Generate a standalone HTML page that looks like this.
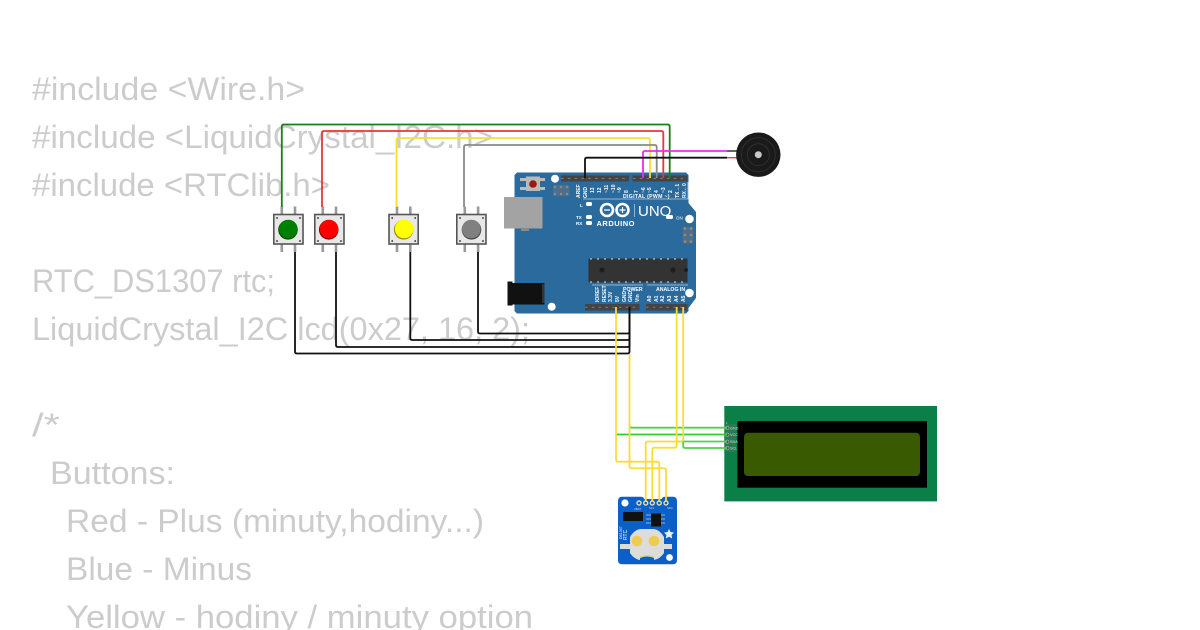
<!DOCTYPE html>
<html><head><meta charset="utf-8"><style>
html,body{margin:0;padding:0;background:#fff;width:1200px;height:630px;overflow:hidden}
svg{position:absolute;left:0;top:0}
.c{font-family:"Liberation Sans",sans-serif;font-size:32px;fill:#ccc}
.w{font-family:"Liberation Sans",sans-serif;font-weight:bold;fill:#fff}
path.wire{fill:none;stroke-width:1.8;stroke-linejoin:round}
</style></head><body>
<svg width="1200" height="630" viewBox="0 0 1200 630" xmlns="http://www.w3.org/2000/svg">
<g class="c">
<text x="32" y="100" textLength="273" lengthAdjust="spacingAndGlyphs">#include &lt;Wire.h&gt;</text>
<text x="32" y="148" textLength="461" lengthAdjust="spacingAndGlyphs">#include &lt;LiquidCrystal_I2C.h&gt;</text>
<text x="32" y="196" textLength="298" lengthAdjust="spacingAndGlyphs">#include &lt;RTClib.h&gt;</text>
<text x="32" y="292" textLength="243" lengthAdjust="spacingAndGlyphs">RTC_DS1307 rtc;</text>
<text x="32" y="340" textLength="498" lengthAdjust="spacingAndGlyphs">LiquidCrystal_I2C lcd(0x27, 16, 2);</text>
<text x="32" y="436" textLength="28" lengthAdjust="spacingAndGlyphs">/*</text>
<text x="50" y="484" textLength="125" lengthAdjust="spacingAndGlyphs">Buttons:</text>
<text x="66" y="532" textLength="418" lengthAdjust="spacingAndGlyphs">Red - Plus (minuty,hodiny...)</text>
<text x="66" y="580" textLength="186" lengthAdjust="spacingAndGlyphs">Blue - Minus</text>
<text x="66" y="628" textLength="467" lengthAdjust="spacingAndGlyphs">Yellow - hodiny / minuty option</text>
</g>

<!-- Arduino -->
<path d="M517 172.5H686L688.5 175V203L696 212V298L688.5 308V311L686 313.5H517L514.5 311V175Z" fill="#2a6a9c"/>
<circle cx="555" cy="178.7" r="4" fill="#fff"/><circle cx="689.5" cy="219" r="4.3" fill="#fff"/><circle cx="689.5" cy="293" r="4.3" fill="#fff"/><circle cx="551.7" cy="306.7" r="4" fill="#fff"/>
<rect x="504" y="197" width="38.5" height="31.5" fill="#a3a3a3"/><rect x="521" y="228" width="8" height="3" fill="#8a8a8a"/>
<rect x="507.5" y="281.5" width="5" height="24" fill="#111"/><rect x="512" y="283" width="32.5" height="21.5" fill="#111"/><rect x="542" y="284" width="2.5" height="19" fill="#333"/>
<rect x="520" y="178" width="25" height="3" fill="#bbb"/><rect x="520" y="187" width="25" height="3" fill="#bbb"/><rect x="526" y="176.5" width="14" height="14.5" fill="#b9b9b9"/><circle cx="533" cy="184" r="3.8" fill="#a01515"/>
<g fill="#9a8a70"><rect x="553" y="185" width="16.5" height="11" fill="#4d6f8d"/>
<circle cx="555" cy="187" r="1.2"/><circle cx="561" cy="187" r="1.2"/><circle cx="567" cy="187" r="1.2"/><circle cx="555" cy="194" r="1.2"/><circle cx="561" cy="194" r="1.2"/><circle cx="567" cy="194" r="1.2"/></g>
<rect x="561" y="175.5" width="68" height="6" fill="#444"/><rect x="632.5" y="175.5" width="55" height="6" fill="#444"/>
<rect x="585" y="304" width="54.5" height="6.5" fill="#444"/><rect x="646" y="304" width="41.5" height="6.5" fill="#444"/>
<path d="M561 178.5H629M633 178.5H687M585 307.3H639M646 307.3H687" stroke="#777" stroke-width="1.2" stroke-dasharray="2.5 4.3" fill="none"/>
<rect x="588.5" y="258.5" width="99" height="24" fill="#333"/>
<path d="M590 259H687M590 282H687" stroke="#ddd" stroke-width="1" stroke-dasharray="2 5"/>
<circle cx="602" cy="270" r="2.5" fill="#1d1d1d"/><circle cx="673" cy="270" r="2.5" fill="#1d1d1d"/><circle cx="686" cy="270" r="2" fill="#1d1d1d"/>
<rect x="682.5" y="226.5" width="11" height="17" fill="#4d6f8d"/>
<g fill="#a08a60"><circle cx="685" cy="228.5" r="1.3"/><circle cx="691" cy="228.5" r="1.3"/><circle cx="685" cy="235" r="1.3"/><circle cx="691" cy="235" r="1.3"/><circle cx="685" cy="241.5" r="1.3"/><circle cx="691" cy="241.5" r="1.3"/></g>
<path d="M583 199H688V182" stroke="#fff" stroke-width=".6" fill="none"/>
<path d="M592 285H643M647 285H688" stroke="#fff" stroke-width=".6" fill="none"/>
<g fill="#fff"><rect x="586" y="202" width="6" height="4" rx="1.5"/><rect x="586" y="215" width="6" height="4" rx="1.5"/><rect x="586" y="221" width="6" height="4" rx="1.5"/><rect x="666" y="215" width="7" height="4" rx="1.5"/></g>
<g fill="none" stroke="#fff" stroke-width="2.6"><circle cx="607" cy="210" r="6"/><circle cx="622.5" cy="210" r="6"/></g>
<path d="M604 210h6M619.5 210h6M622.5 207v6" stroke="#fff" stroke-width="1.2"/>
<path d="M634.5 204V217" stroke="#fff" stroke-width=".5"/>
<text x="638" y="216" font-family="Liberation Sans,sans-serif" font-size="15" fill="#fff">UNO</text>
<text class="w" x="596.5" y="226" font-size="7.5" letter-spacing=".5">ARDUINO</text>
<text class="w" x="623" y="198" font-size="5.2" letter-spacing=".3">DIGITAL (PWM ~)</text>
<text class="w" x="580" y="207" font-size="4.5">L</text><text class="w" x="576" y="219" font-size="4.5">TX</text><text class="w" x="576" y="225" font-size="4.5">RX</text>
<text class="w" x="676" y="219.5" font-size="4.5" style="font-weight:normal">ON</text>
<text class="w" x="623" y="291" font-size="5.2">POWER</text><text class="w" x="656" y="291" font-size="5.2">ANALOG IN</text>
<g class="w" font-size="5" text-anchor="start">
<text transform="translate(580,198) rotate(-90)">AREF</text><text transform="translate(587,198) rotate(-90)">GND</text>
<text transform="translate(594,193) rotate(-90)">13</text><text transform="translate(601,193) rotate(-90)">12</text><text transform="translate(608,193) rotate(-90)">~11</text><text transform="translate(615,193) rotate(-90)">~10</text><text transform="translate(621,193) rotate(-90)">~9</text><text transform="translate(628,193) rotate(-90)">8</text>
<text transform="translate(638,193) rotate(-90)">7</text><text transform="translate(645,193) rotate(-90)">~6</text><text transform="translate(651,193) rotate(-90)">~5</text><text transform="translate(658,193) rotate(-90)">4</text><text transform="translate(665,193) rotate(-90)">~3</text><text transform="translate(672,193) rotate(-90)">2</text>
<text transform="translate(679,198) rotate(-90)">TX→1</text><text transform="translate(686,198) rotate(-90)">RX←0</text>
<text transform="translate(599,302) rotate(-90)">IOREF</text><text transform="translate(606,302) rotate(-90)">RESET</text><text transform="translate(612,302) rotate(-90)">3.3V</text><text transform="translate(619,302) rotate(-90)">5V</text><text transform="translate(626,302) rotate(-90)">GND</text><text transform="translate(632,302) rotate(-90)">GND</text><text transform="translate(639,302) rotate(-90)">Vin</text>
<text transform="translate(651,302) rotate(-90)">A0</text><text transform="translate(658,302) rotate(-90)">A1</text><text transform="translate(664,302) rotate(-90)">A2</text><text transform="translate(671,302) rotate(-90)">A3</text><text transform="translate(678,302) rotate(-90)">A4</text><text transform="translate(685,302) rotate(-90)">A5</text>
</g>

<!-- Buttons -->
<g id="btns">
<g fill="#999">
<rect x="280.5" y="206.5" width="2.6" height="8"/><rect x="293.7" y="206.5" width="2.6" height="8"/><rect x="280.5" y="244" width="2.6" height="8"/><rect x="293.7" y="244" width="2.6" height="8"/>
<rect x="321.5" y="206.5" width="2.6" height="8"/><rect x="334.7" y="206.5" width="2.6" height="8"/><rect x="321.5" y="244" width="2.6" height="8"/><rect x="334.7" y="244" width="2.6" height="8"/>
<rect x="395.7" y="206.5" width="2.6" height="8"/><rect x="409" y="206.5" width="2.6" height="8"/><rect x="395.7" y="244" width="2.6" height="8"/><rect x="409" y="244" width="2.6" height="8"/>
<rect x="463.5" y="206.5" width="2.6" height="8"/><rect x="476.8" y="206.5" width="2.6" height="8"/><rect x="463.5" y="244" width="2.6" height="8"/><rect x="476.8" y="244" width="2.6" height="8"/>
</g>
<g fill="#e8e8e8" stroke="#555" stroke-width="1.6">
<rect x="273.8" y="214.5" width="29.2" height="29.5"/><rect x="314.8" y="214.5" width="29.2" height="29.5"/><rect x="389" y="214.5" width="29.2" height="29.5"/><rect x="456.8" y="214.5" width="29.2" height="29.5"/>
</g>
<g fill="#222">
<circle cx="277" cy="218" r=".9"/><circle cx="300" cy="218" r=".9"/><circle cx="277" cy="241" r=".9"/><circle cx="300" cy="241" r=".9"/>
<circle cx="318" cy="218" r=".9"/><circle cx="341" cy="218" r=".9"/><circle cx="318" cy="241" r=".9"/><circle cx="341" cy="241" r=".9"/>
<circle cx="392.2" cy="218" r=".9"/><circle cx="415.2" cy="218" r=".9"/><circle cx="392.2" cy="241" r=".9"/><circle cx="415.2" cy="241" r=".9"/>
<circle cx="460" cy="218" r=".9"/><circle cx="483" cy="218" r=".9"/><circle cx="460" cy="241" r=".9"/><circle cx="483" cy="241" r=".9"/>
</g>
<circle cx="288" cy="229.8" r="9.8" fill="#004d00"/><circle cx="288.3" cy="229" r="9.3" fill="#008000"/>
<circle cx="328.7" cy="229.8" r="9.8" fill="#8a0000"/><circle cx="329" cy="229" r="9.3" fill="#f00"/>
<circle cx="403.7" cy="229.8" r="9.8" fill="#a09000"/><circle cx="404.2" cy="229" r="9.3" fill="#ff0"/>
<circle cx="471.5" cy="229.8" r="9.8" fill="#4a4a4a"/><circle cx="471.3" cy="229" r="9.3" fill="#808080"/>
</g>

<!-- Buzzer -->
<path d="M737 151H727" stroke="#111" stroke-width="1.3"/><path d="M737 157.7H727" stroke="#e33" stroke-width="1.3"/>
<circle cx="758.3" cy="154.7" r="22.2" fill="#1a1a1a"/>
<circle cx="758.3" cy="154.7" r="17" fill="none" stroke="#333" stroke-width=".8"/><circle cx="758.3" cy="154.7" r="11" fill="none" stroke="#333" stroke-width=".8"/>
<circle cx="758.3" cy="154.7" r="3.5" fill="#c8c8c8"/>

<!-- LCD -->
<rect x="724.3" y="406" width="212.7" height="95.4" fill="#0a7f47"/>
<rect x="737.4" y="421" width="189.6" height="66.7" fill="#000"/>
<rect x="744" y="432.7" width="176" height="43.3" rx="4" fill="#3a5a00"/>
<rect x="724.3" y="424" width="12" height="28" fill="#3c7a58" opacity=".6"/>
<g fill="#555" stroke="#ccc" stroke-width=".5"><circle cx="727.3" cy="428" r="1.8"/><circle cx="727.3" cy="434.7" r="1.8"/><circle cx="727.3" cy="441.7" r="1.8"/><circle cx="727.3" cy="448.2" r="1.8"/></g>
<g font-family="Liberation Sans,sans-serif" font-size="3.8" fill="#ddd"><text x="730" y="429.5">GND</text><text x="730" y="436">VCC</text><text x="730" y="443">SDA</text><text x="730" y="449.5">SCL</text><text x="726" y="424" font-size="3">1</text></g>

<!-- RTC -->
<path d="M622 496.7H640.5Q644 496.7 644 499H662Q662 496.7 665 496.7H673Q677 496.7 677 501V560Q677 564.3 673 564.3H622Q618 564.3 618 560V501Q618 496.7 622 496.7Z" fill="#0a5fc8"/>
<circle cx="625" cy="503" r="3.6" fill="#fff"/><circle cx="669.5" cy="557.5" r="3.4" fill="#fff"/>
<g fill="#0a5fc8" stroke="#e8dfa8" stroke-width="1.4"><circle cx="639" cy="503" r="2"/><circle cx="645.7" cy="503" r="2"/><circle cx="652.3" cy="503" r="2"/><circle cx="659.2" cy="503" r="2"/><circle cx="666" cy="503" r="2"/></g>
<rect x="623" y="512" width="20" height="9" fill="#111"/>
<rect x="651" y="513.5" width="10" height="13" fill="#111"/>
<path d="M646 515h5M646 519h5M646 523h5M661 515h4M661 519h4M661 523h4" stroke="#aab" stroke-width="1"/>
<text class="w" transform="translate(627,540) rotate(-90)" font-size="5" style="font-weight:normal">RTC</text>
<text class="w" transform="translate(622,539) rotate(-90)" font-size="3.5" style="font-weight:normal">DS1307</text>
<path d="M640 529H654Q660 530 664 537V544H672V549H664V553Q660 559 654 560H640Q634 559 630 553V549H620V544H630V537Q634 530 640 529Z" fill="#dcdcdc"/>
<path d="M640 558Q647 555 654 558V561H640Z" fill="#0a5fc8"/><path d="M640 557Q647 554.5 654 557" stroke="#e0c840" stroke-width=".8" fill="none"/>
<circle cx="637" cy="541" r="5.3" fill="#edcd4f"/><circle cx="654" cy="541" r="5.3" fill="#edcd4f"/>
<path d="M669 529l1.5 3 3.5.5-2.5 2.5.7 3.5-3.2-1.7-3.2 1.7.7-3.5-2.5-2.5 3.5-.5z" fill="#e8eefc"/>
<g font-family="Liberation Sans,sans-serif" font-size="2.8" fill="#dde"><text x="634" y="510">VBAT</text><text x="649" y="509">SCL</text><text x="667" y="509">SDA</text></g>

<!-- Wires -->
<path class="wire" stroke="#1a7f1a" d="M281.8 207V126.5Q281.8 124.5 283.8 124.5H667.5Q669.7 124.5 669.7 126.5V178"/>
<path class="wire" stroke="#e63838" d="M322 207V133Q322 131 324 131H661Q663.3 131 663.3 133V178"/>
<path class="wire" stroke="#fbdd35" d="M396.5 207V140Q396.5 138 398.5 138H648Q650 138 650 140V178"/>
<path class="wire" stroke="#8a8a8a" d="M464 207V147Q464 145 466 145H654.7Q656.7 145 656.7 147V178"/>
<path class="wire" stroke="#ee2be8" d="M727 151H645Q643 151 643 153V178"/>
<path class="wire" stroke="#111" d="M727 157.7H587Q585 157.7 585 159.7V178"/>
<path class="wire" stroke="#111" d="M295 252V351.5Q295 353.5 297 353.5H627.5Q629.5 353.5 629.5 351.5V307"/>
<path class="wire" stroke="#111" d="M336 252V345Q336 347 338 347H627.5Q629.5 347 629.5 345V307"/>
<path class="wire" stroke="#111" d="M410.3 252V338Q410.3 340 412.3 340H627.5Q629.5 340 629.5 338V307"/>
<path class="wire" stroke="#111" d="M478 252V331.5Q478 333.5 480 333.5H627.5Q629.5 333.5 629.5 331.5V307"/>

<path class="wire" stroke="#4fd04f" d="M629.5 425.7Q629.5 427.7 631.5 427.7H727"/>
<path class="wire" stroke="#2ecc2e" d="M616 434.5H727"/>
<path class="wire" stroke="#4fd04f" d="M676.7 441.5H727"/>
<path class="wire" stroke="#4fd04f" d="M683.2 441V446Q683.2 448 685.2 448H727"/>

<path class="wire" stroke="#fbdd35" d="M616 307V459.7Q616 461.7 618 461.7H657.3Q659.3 461.7 659.3 463.7V501"/>
<path class="wire" stroke="#fbdd35" d="M629.5 354V466.3Q629.5 468.3 631.5 468.3H664Q666 468.3 666 470.3V501"/>
<path class="wire" stroke="#fbdd35" d="M676.7 307V445.7Q676.7 447.7 674.7 447.7H654.3Q652.3 447.7 652.3 449.7V501"/>
<path class="wire" stroke="#fbdd35" d="M683.2 307V439.5Q683.2 441.5 681.2 441.5H647.7Q645.7 441.5 645.7 443.5V501"/>
</svg>
</body></html>
